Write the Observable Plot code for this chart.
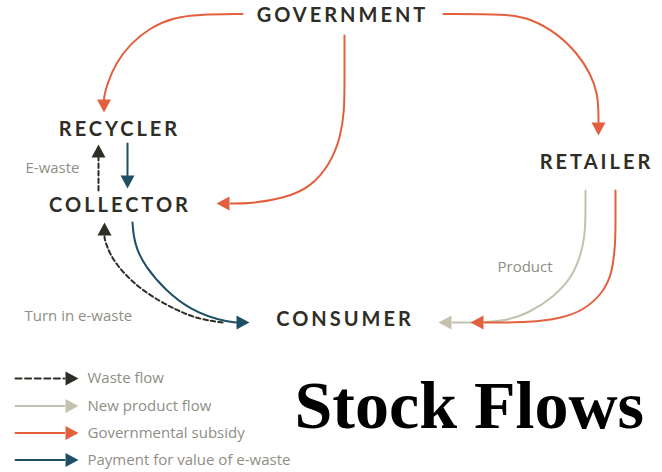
<!DOCTYPE html>
<html><head><meta charset="utf-8">
<script src="https://cdn.jsdelivr.net/npm/d3@7"></script>
<script src="https://cdn.jsdelivr.net/npm/@observablehq/plot@0.6"></script>
<style>
html,body{margin:0;padding:0;background:#fff}
#chart svg{display:block}
</style>
</head><body><div id="chart"></div>
<script>
// ---- nodes (stocks) ----
const nodeNames = ["GOVERNMENT", "RECYCLER", "COLLECTOR", "RETAILER", "CONSUMER"];
const nodeX = [342, 119, 119.5, 596, 344.5];
const nodeY = [15, 129, 205.5, 162.5, 319.5];

// ---- flow kinds (legend) ----
const kindNames = ["Waste flow", "New product flow", "Governmental subsidy", "Payment for value of e-waste"];
const kindColors = ["#2f2e26", "#c4c1af", "#e3603e", "#1e4f65"];
const kindDashed = [true, false, false, false];
const legendY = [378, 405.5, 432.5, 459.5];

const flowKind = [2, 2, 2, 0, 3, 0, 3, 1, 2];
const flowPathX = [
  [242, 197, 173, 150, 130, 115, 107, 104, 103.5],
  [443, 507, 530, 557, 577, 590, 597, 598, 598],
  [344, 344, 344, 340, 330, 310, 283, 250, 230],
  [98, 98],
  [127, 127],
  [222, 200, 178, 140, 114, 106, 104, 104],
  [132, 133, 136, 144, 165, 191, 220, 236],
  [585, 585, 584, 575, 553, 527, 507, 480, 452],
  [615, 615, 615, 612, 602, 583, 560, 530, 484]
];
const flowPathY = [
  [13.5, 14, 17, 27, 43, 63, 83, 94, 99],
  [13.5, 13.5, 18, 33, 53, 73, 93, 110, 122],
  [35, 80, 110, 137, 163, 187, 198, 203, 203],
  [190, 157],
  [143, 175],
  [322, 319, 311, 290, 263, 245, 238, 235],
  [222, 235, 248, 265, 290, 310, 320, 322],
  [190, 220, 240, 273, 297, 313, 320, 322, 322],
  [190, 220, 240, 273, 293, 310, 318, 322, 322]
];
const flowTipX = [103.5, 598, 216, 98, 127, 104, 249, 438, 470];
const flowTipY = [112, 135, 203, 144, 188, 222, 322, 322, 322];

// ---- small labels ----
const noteTexts = ["E-waste", "Product", "Turn in e-waste"];
const noteX = [25, 497, 24];
const noteY = [168, 267, 316];

const titleText = "Stock Flows";

// ---- build tables ----
const pathRows = [];
const headRows = [];
function addHead(id, tx, ty, px, py, color) {
  const dx = tx - px, dy = ty - py, len = Math.hypot(dx, dy);
  const ux = dx / len, uy = dy / len, nx = -uy, ny = ux;
  const L = 13, W = 7;
  const bx = tx - ux * L, by = ty - uy * L;
  headRows.push({id, x: tx, y: ty, color});
  headRows.push({id, x: bx + nx * W, y: by + ny * W, color});
  headRows.push({id, x: bx - nx * W, y: by - ny * W, color});
}
flowKind.forEach((k, i) => {
  const xs = flowPathX[i], ys = flowPathY[i];
  xs.forEach((x, j) => pathRows.push({id: "f" + i, x, y: ys[j], color: kindColors[k], dashed: kindDashed[k]}));
  addHead("f" + i, flowTipX[i], flowTipY[i], xs[xs.length - 1], ys[ys.length - 1], kindColors[k]);
});

const legendLine = [];
kindNames.forEach((n, k) => {
  legendLine.push({id: "l" + k, x: 15, y: legendY[k], color: kindColors[k], dashed: kindDashed[k]});
  legendLine.push({id: "l" + k, x: 64, y: legendY[k], color: kindColors[k], dashed: kindDashed[k]});
  addHead("l" + k, 78, legendY[k], 64, legendY[k], kindColors[k]);
});

const nodes = nodeNames.map((name, i) => ({name, x: nodeX[i], y: nodeY[i]}));
const notes = noteTexts.map((t, i) => ({t, x: noteX[i], y: noteY[i]}));
const legend = kindNames.map((t, k) => ({t, x: 87, y: legendY[k]}));

const chart = Plot.plot({
  width: 662,
  height: 472,
  margin: 0,
  x: {domain: [0, 662], range: [0, 662], axis: null},
  y: {domain: [0, 472], range: [0, 472], axis: null},
  color: {type: "identity"},
  style: {background: "#fff"},
  marks: [
    Plot.line(pathRows.filter(d => !d.dashed), {x: "x", y: "y", z: "id", stroke: "color", strokeWidth: 2, curve: "basis"}),
    Plot.line(pathRows.filter(d => d.dashed), {x: "x", y: "y", z: "id", stroke: "color", strokeWidth: 2, strokeDasharray: "4.5,3", curve: "basis"}),
    Plot.line(legendLine.filter(d => !d.dashed), {x: "x", y: "y", z: "id", stroke: "color", strokeWidth: 2}),
    Plot.line(legendLine.filter(d => d.dashed), {x: "x", y: "y", z: "id", stroke: "color", strokeWidth: 2, strokeDasharray: "6,3.6"}),
    Plot.line(headRows, {x: "x", y: "y", z: "id", fill: "color", stroke: "none"}),
    Plot.text(nodes, {x: "x", y: "y", text: "name", fontFamily: "Lato", fontWeight: 700, fontSize: 20, fill: "#2f2e26"}),
    Plot.text(notes, {x: "x", y: "y", text: "t", textAnchor: "start", fontFamily: "Open Sans", fontSize: 15, fill: "#8e8e86"}),
    Plot.text(legend, {x: "x", y: "y", text: "t", textAnchor: "start", fontFamily: "Open Sans", fontSize: 15, fill: "#8e8e86"}),
    Plot.text([titleText], {x: () => 294, y: () => 427, text: d => d, textAnchor: "start", lineAnchor: "bottom", fontFamily: "Liberation Serif", fontWeight: 700, fontSize: 68, fill: "#000"})
  ]
});
// node labels are letter-spaced
d3.select(chart).selectAll("text").each(function() {
  if (nodeNames.includes(this.textContent)) this.style.letterSpacing = "3px";
});
document.getElementById("chart").appendChild(chart);
</script>
</body></html>
